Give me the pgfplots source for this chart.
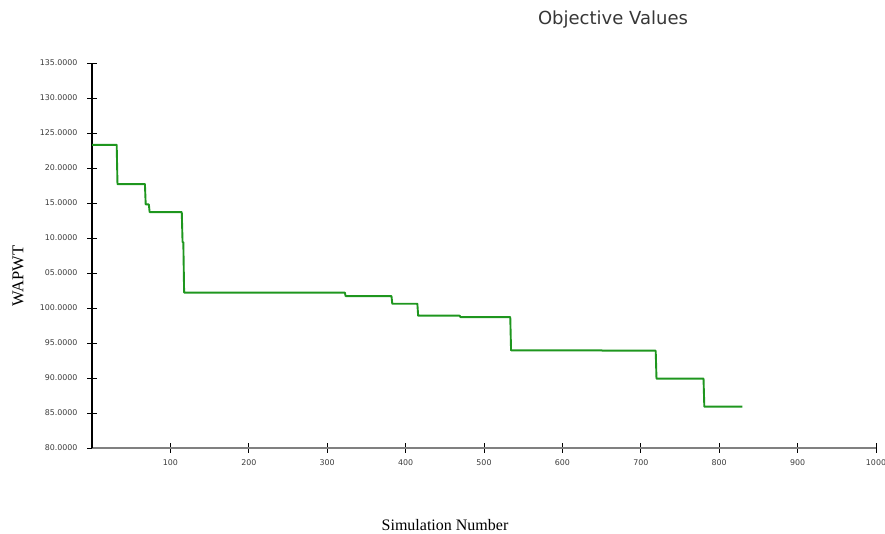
\documentclass[border=0pt]{standalone}
\usepackage{pgfplots}
\pgfplotsset{compat=1.18}
\usepackage{fontspec}
\setmainfont{Liberation Serif}
\newfontfamily\tickfont{DejaVu Sans}
\definecolor{linegreen}{RGB}{30,150,30}
\definecolor{ticktext}{RGB}{60,60,60}
\definecolor{titlegrey}{RGB}{55,55,55}
\begin{document}
\begin{tikzpicture}[x=1pt,y=1pt]
\useasboundingbox (0,0) rectangle (885,534);
\begin{axis}[
  at={(92pt,86pt)}, anchor=south west,
  scale only axis, width=784pt, height=385pt,
  xmin=0, xmax=1000, ymin=80, ymax=135,
  axis lines=left,
  axis line style={-},
  x axis line style={draw=gray, line width=1.6pt},
  y axis line style={draw=black, line width=1.2pt},
  xtick={100,200,...,1000},
  xticklabels={100,200,300,400,500,600,700,800,900,1000},
  ytick={80,85,...,135},
  yticklabels={80.0000,85.0000,90.0000,95.0000,100.0000,05.0000,10.0000,15.0000,20.0000,125.0000,130.0000,135.0000},
  tick align=center,
  major tick length=10pt,
  tick style={black, line width=0.9pt},
  ticklabel style={font=\tickfont\fontsize{7.9}{9}\selectfont, text=ticktext},
  yticklabel style={anchor=east, xshift=-6pt},
  xticklabel style={anchor=north, yshift=-3pt},
  clip=false,
]
\addplot[linegreen, line width=1.9pt, line join=round] coordinates {
(0,123.3) (31.5,123.3) (32.5,117.7) (67.5,117.7) (68.5,114.8) (72.5,114.8)
(73.5,113.7) (114.5,113.7) (115.5,109.4) (116.5,109.4) (117.5,102.2)
(322.5,102.2) (323.5,101.7) (382,101.7) (383,100.6) (415,100.6) (416,98.9)
(469,98.9) (470,98.7) (533.5,98.7) (534.5,93.95) (650,93.95) (651,93.9)
(719,93.9) (720,89.9) (780,89.9) (781,85.9) (829.5,85.9)
};
\end{axis}
\node[font=\tickfont\fontsize{18}{21}\selectfont, text=titlegrey] at (613,514) {Objective Values};
\node[font=\fontsize{16}{19}\selectfont] at (445,9) {Simulation Number};
\node[font=\fontsize{16.5}{19}\selectfont, rotate=90] at (18,258) {WAPWT};
\end{tikzpicture}
\end{document}
